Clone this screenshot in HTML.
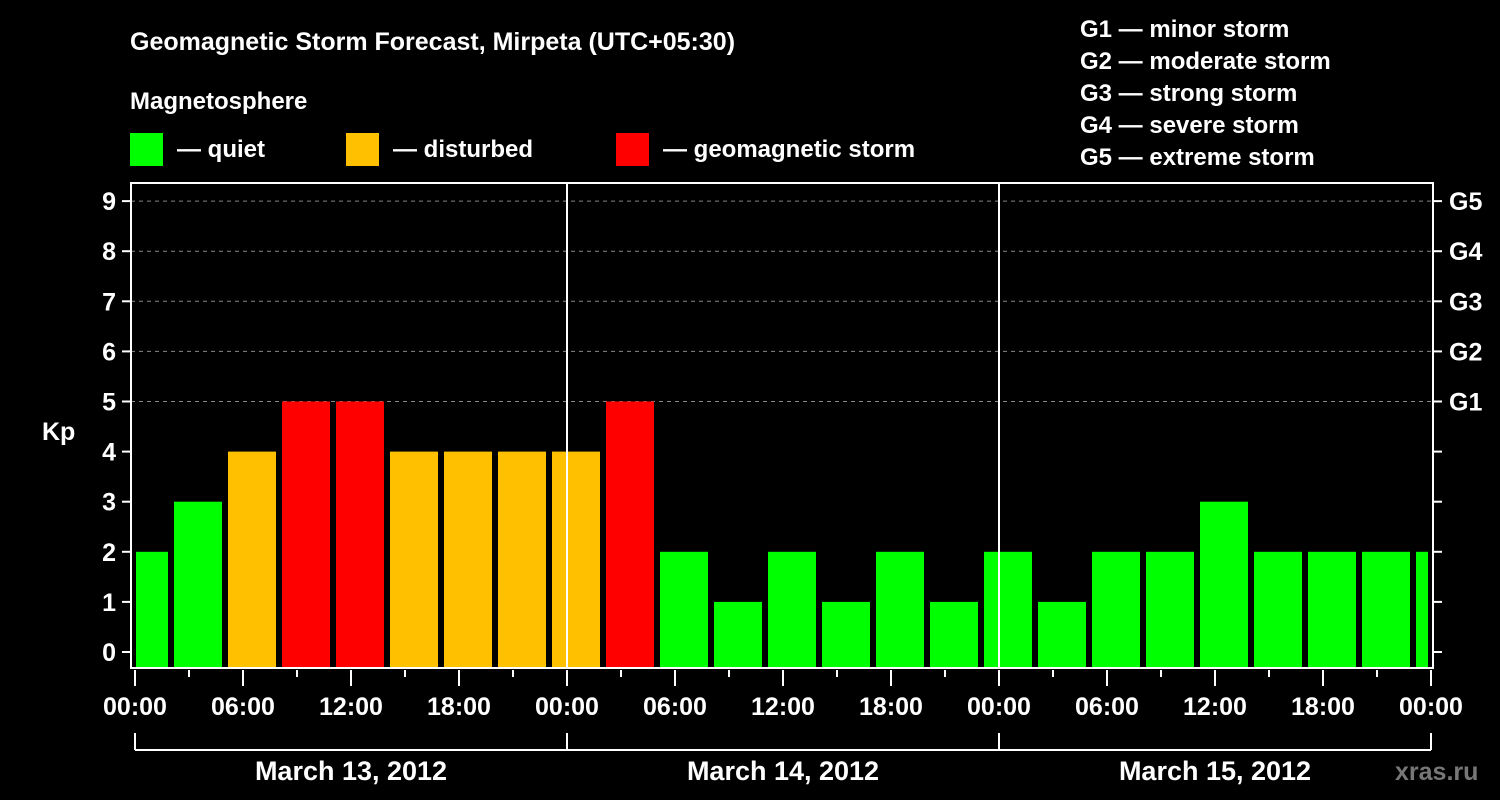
<!DOCTYPE html>
<html><head><meta charset="utf-8"><style>
body{margin:0;background:#000;}
svg{display:block;font-family:"Liberation Sans",Arial,sans-serif;font-weight:bold;}
</style></head><body>
<svg width="1500" height="800" viewBox="0 0 1500 800">
<rect width="1500" height="800" fill="#000"/>
<text x="130" y="50" fill="#fff" font-size="25">Geomagnetic Storm Forecast, Mirpeta (UTC+05:30)</text>
<text x="130" y="109" fill="#fff" font-size="24">Magnetosphere</text>
<g><rect x="130" y="133" width="33" height="33" fill="#00ff00"/><text x="177" y="157" fill="#fff" font-size="24">— quiet</text></g>
<g><rect x="346" y="133" width="33" height="33" fill="#ffc000"/><text x="393" y="157" fill="#fff" font-size="24">— disturbed</text></g>
<g><rect x="616" y="133" width="33" height="33" fill="#ff0000"/><text x="663" y="157" fill="#fff" font-size="24">— geomagnetic storm</text></g>
<g fill="#fff" font-size="24">
<text x="1080" y="37">G1 — minor storm</text><text x="1080" y="69">G2 — moderate storm</text><text x="1080" y="101">G3 — strong storm</text><text x="1080" y="133">G4 — severe storm</text><text x="1080" y="165">G5 — extreme storm</text>
</g>
<text x="42" y="440" fill="#fff" font-size="25">Kp</text>
<g id="plot"></g>
<text x="1395" y="780" fill="#777" font-size="25">xras.ru</text>
</svg>
<script>
const kpValues=[2,3,4,5,5,4,4,4,4,5,2,1,2,1,2,1,2,1,2,2,3,2,2,2,2];
const barHours=[0.5,3.5,6.5,9.5,12.5,15.5,18.5,21.5,24.5,27.5,30.5,33.5,36.5,39.5,42.5,45.5,48.5,51.5,54.5,57.5,60.5,63.5,66.5,69.5,72.5];
const yTicks=[0,1,2,3,4,5,6,7,8,9];
const gLabels=["G1","G2","G3","G4","G5"];
const xTickLabels=["00:00","06:00","12:00","18:00","00:00","06:00","12:00","18:00","00:00","06:00","12:00","18:00","00:00"];
const dayLabels=["March 13, 2012","March 14, 2012","March 15, 2012"];
const NS="http://www.w3.org/2000/svg";
const X=h=>135+h*18;
const Y=v=>652-v*50.1;
const L=131,R=1433,T=183,B=668;
const g=document.getElementById('plot');
function mk(t,a,txt){const e=document.createElementNS(NS,t);for(const k in a)e.setAttribute(k,a[k]);if(txt!==undefined)e.textContent=txt;g.appendChild(e);return e;}
function color(v){return v>=5?"#ff0000":v>=4?"#ffc000":"#00ff00";}
// grid
for(let v=5;v<=9;v++){const e=mk('line',{x1:L,x2:R,y1:Y(v),y2:Y(v),stroke:"#888","stroke-dasharray":"4,4","stroke-width":1});

}
// bars
kpValues.forEach((v,i)=>{let x0=X(barHours[i])-24,x1=X(barHours[i])+24;x0=Math.max(x0,136);x1=Math.min(x1,1428);
const r=mk('rect',{x:x0,y:Y(v),width:Math.max(0,x1-x0),height:B-Y(v),fill:color(v)});

});
// day lines
[24,48].forEach(h=>{const e=mk('line',{x1:X(h),x2:X(h),y1:T,y2:B,stroke:"#fff","stroke-width":2});

});
// frame
const fr=mk('rect',{x:L,y:T,width:R-L,height:B-T,fill:"none",stroke:"#fff","stroke-width":2});


yTicks.forEach(v=>{mk('line',{x1:122,x2:L,y1:Y(v),y2:Y(v),stroke:"#fff","stroke-width":2});
mk('line',{x1:R,x2:1442,y1:Y(v),y2:Y(v),stroke:"#fff","stroke-width":2});
const t=mk('text',{x:116,y:Y(v)+9,fill:"#fff","font-size":25,"text-anchor":"end"},String(v));

});
gLabels.forEach((s,i)=>{const t=mk('text',{x:1449,y:Y(5+i)+9,fill:"#fff","font-size":25},s);

});
for(let h=0;h<=72;h+=3){const major=h%6===0;mk('line',{x1:X(h),x2:X(h),y1:B+2,y2:major?B+18:B+9,stroke:"#fff","stroke-width":2});}
xTickLabels.forEach((s,i)=>{const t=mk('text',{x:X(i*6),y:715,fill:"#fff","font-size":25,"text-anchor":"middle"},s);

});
mk('line',{x1:X(0),x2:X(72),y1:750,y2:750,stroke:"#fff","stroke-width":2});
[0,24,48,72].forEach(h=>mk('line',{x1:X(h),x2:X(h),y1:733,y2:750,stroke:"#fff","stroke-width":2}));
dayLabels.forEach((s,i)=>{const t=mk('text',{x:X(i*24+12),y:780,fill:"#fff","font-size":27,"text-anchor":"middle"},s);

});
</script>
</body></html>
